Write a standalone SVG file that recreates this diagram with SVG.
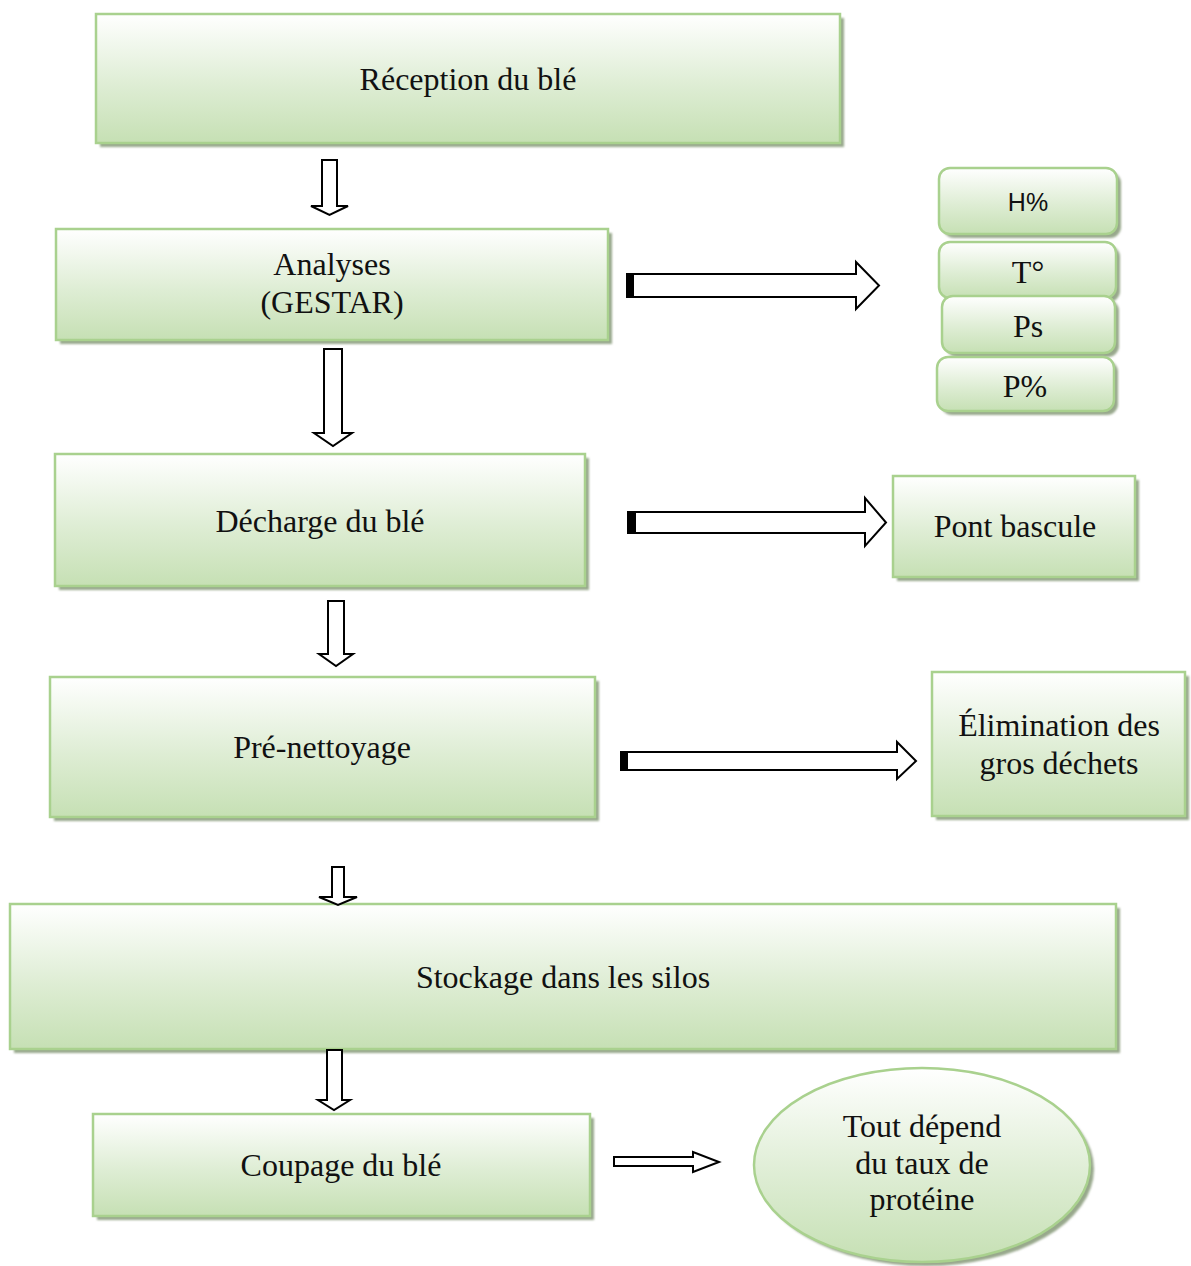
<svg xmlns="http://www.w3.org/2000/svg" width="1191" height="1266" viewBox="0 0 1191 1266">
<defs>
<linearGradient id="g" x1="0" y1="0" x2="0" y2="1">
<stop offset="0" stop-color="#ffffff"/>
<stop offset="0.55" stop-color="#deedd4"/>
<stop offset="1" stop-color="#c6e0b4"/>
</linearGradient>
<filter id="sh" x="-5%" y="-5%" width="115%" height="120%">
<feGaussianBlur stdDeviation="1"/>
</filter>
</defs>
<style>
.box{fill:url(#g);stroke:#a9d18e;stroke-width:2.5}
.shd{fill:#98a88c;filter:url(#sh)}
.t{font-family:"Liberation Serif","Times New Roman",serif;font-size:32px;fill:#111;text-anchor:middle;dominant-baseline:central}
.ts{font-family:"Liberation Sans",Arial,sans-serif;font-size:25px;fill:#111;text-anchor:middle;dominant-baseline:central}
.arr{fill:#fff;stroke:#000;stroke-width:2;stroke-linejoin:miter}
.bar{fill:#000}
</style>
<rect width="1191" height="1266" fill="#fff"/>

<g id="n-reception">
<rect class="shd" x="100" y="18" width="744" height="129"/>
<rect class="box" x="96" y="14" width="744" height="129"/>
<text class="t" x="468" y="79">Réception du blé</text>
</g>

<g id="n-analyses">
<rect class="shd" x="60" y="233" width="552" height="111"/>
<rect class="box" x="56" y="229" width="552" height="111"/>
<text class="t" x="332" y="264">Analyses</text>
<text class="t" x="332" y="302">(GESTAR)</text>
</g>

<g id="n-h">
<rect class="shd" x="943" y="172" width="178" height="66" rx="11"/>
<rect class="box" x="939" y="168" width="178" height="66" rx="11"/>
<text class="ts" x="1028" y="202">H%</text>
</g>
<g id="n-t">
<rect class="shd" x="943" y="246" width="177" height="56" rx="11"/>
<rect class="box" x="939" y="242" width="177" height="56" rx="11"/>
<text class="t" x="1028" y="272">T°</text>
</g>
<g id="n-ps">
<rect class="shd" x="946" y="300" width="173" height="57" rx="11"/>
<rect class="box" x="942" y="296" width="173" height="57" rx="11"/>
<text class="t" x="1028" y="326">Ps</text>
</g>
<g id="n-p">
<rect class="shd" x="941" y="361" width="177" height="54" rx="11"/>
<rect class="box" x="937" y="357" width="177" height="54" rx="11"/>
<text class="t" x="1025" y="386">P%</text>
</g>

<g id="n-decharge">
<rect class="shd" x="59" y="458" width="530" height="132"/>
<rect class="box" x="55" y="454" width="530" height="132"/>
<text class="t" x="320" y="521">Décharge du blé</text>
</g>

<g id="n-pont">
<rect class="shd" x="897" y="480" width="242" height="101"/>
<rect class="box" x="893" y="476" width="242" height="101"/>
<text class="t" x="1015" y="526">Pont bascule</text>
</g>

<g id="n-prenettoyage">
<rect class="shd" x="54" y="681" width="545" height="140"/>
<rect class="box" x="50" y="677" width="545" height="140"/>
<text class="t" x="322" y="747">Pré-nettoyage</text>
</g>

<g id="n-elimination">
<rect class="shd" x="936" y="676" width="253" height="144"/>
<rect class="box" x="932" y="672" width="253" height="144"/>
<text class="t" x="1059" y="725">Élimination des</text>
<text class="t" x="1059" y="763">gros déchets</text>
</g>

<g id="n-stockage">
<rect class="shd" x="14" y="908" width="1106" height="145"/>
<rect class="box" x="10" y="904" width="1106" height="145"/>
<text class="t" x="563" y="977">Stockage dans les silos</text>
</g>

<g id="n-coupage">
<rect class="shd" x="97" y="1118" width="497" height="102"/>
<rect class="box" x="93" y="1114" width="497" height="102"/>
<text class="t" x="341" y="1165">Coupage du blé</text>
</g>

<g id="n-proteine">
<ellipse class="shd" cx="926" cy="1169" rx="168" ry="97"/>
<ellipse class="box" cx="922" cy="1165" rx="168" ry="97"/>
<text class="t" x="922" y="1126">Tout dépend</text>
<text class="t" x="922" y="1163">du taux de</text>
<text class="t" x="922" y="1199">protéine</text>
</g>

<g id="connectors">
<path class="arr" d="M322,160 H337 V206 H348 L329.5,215 L311,206 H322 Z"/>
<path class="arr" d="M324,349 H342 V433 H352 L333,446 L314,433 H324 Z"/>
<path class="arr" d="M328,601 H344 V654 H353 L336,666 L319,654 H328 Z"/>
<path class="arr" d="M332,867 H344 V897 H357 L338,905 L319,897 H332 Z"/>
<path class="arr" d="M327,1050 H342 V1100 H350 L334,1110 L318,1100 H327 Z"/>
<path class="arr" d="M627,274 H856 V262 L879,285.5 L856,309 V297 H627 Z"/>
<rect class="bar" x="626" y="274" width="8" height="23"/>
<path class="arr" d="M628,512 H865 V498 L886,522.5 L865,546 V533 H628 Z"/>
<rect class="bar" x="627" y="512" width="9" height="21"/>
<path class="arr" d="M621,752 H897 V742 L916,761 L897,779 V770 H621 Z"/>
<rect class="bar" x="620" y="752" width="8" height="18"/>
<path class="arr" d="M614,1157 H693 V1152 L719,1162 L693,1172 V1166 H614 Z"/>
</g>
</svg>
